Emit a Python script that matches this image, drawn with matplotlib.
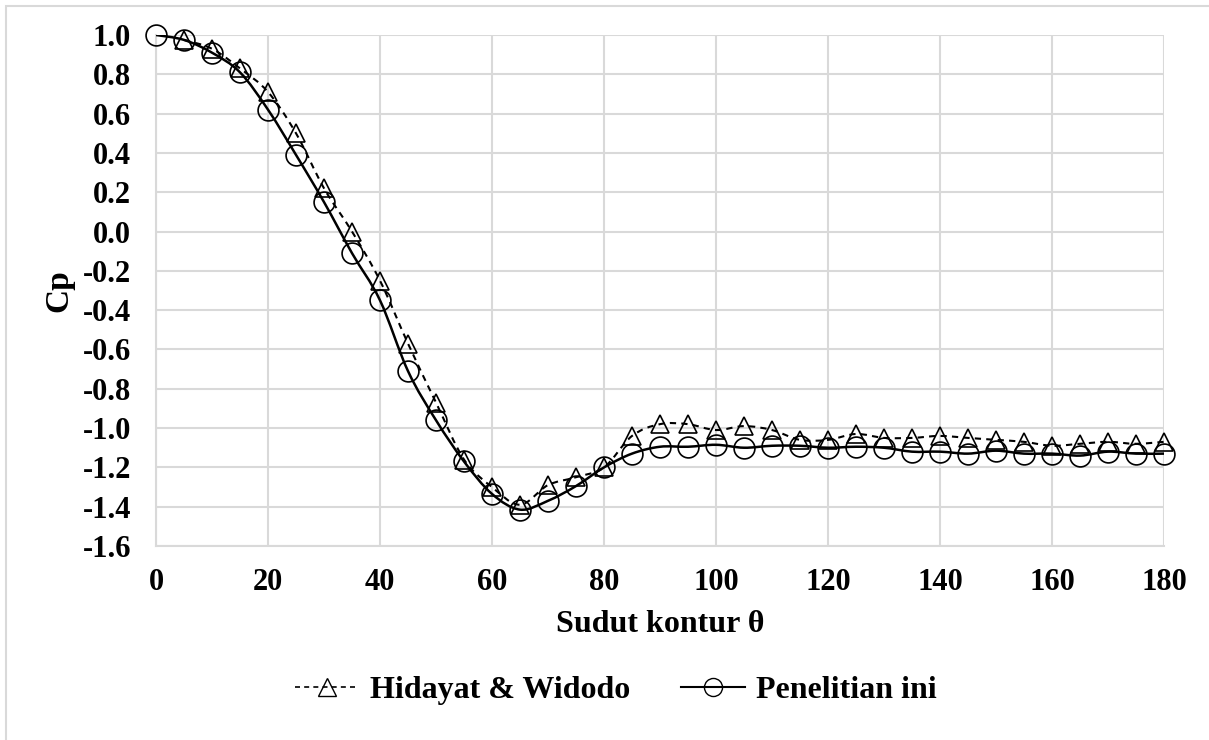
import matplotlib
matplotlib.use("Agg")
import matplotlib.pyplot as plt
import numpy as np
from matplotlib.path import Path
from matplotlib.patches import PathPatch, Rectangle
from matplotlib.lines import Line2D

# sudut kontur (derajat)
theta = [0, 5, 10, 15, 20, 25, 30, 35, 40, 45, 50, 55, 60, 65, 70, 75, 80, 85, 90,
         95, 100, 105, 110, 115, 120, 125, 130, 135, 140, 145, 150, 155, 160, 165,
         170, 175, 180]

# Hidayat & Widodo (mulai dari 5 derajat)
theta_hw = theta[1:]
cp_hw = [0.975, 0.93, 0.83, 0.71, 0.50, 0.22, 0.0, -0.25, -0.57, -0.87, -1.16,
         -1.30, -1.39, -1.29, -1.25, -1.20, -1.04, -0.98, -0.98, -1.01, -0.99,
         -1.01, -1.06, -1.06, -1.03, -1.05, -1.05, -1.04, -1.05, -1.06, -1.07,
         -1.09, -1.08, -1.07, -1.08, -1.07]

# Penelitian ini
cp_ini = [1.0, 0.975, 0.91, 0.81, 0.62, 0.39, 0.15, -0.11, -0.35, -0.71, -0.96,
          -1.17, -1.335, -1.415, -1.37, -1.295, -1.20, -1.13, -1.095, -1.095,
          -1.085, -1.10, -1.09, -1.09, -1.10, -1.095, -1.10, -1.12, -1.12, -1.13,
          -1.115, -1.13, -1.13, -1.14, -1.12, -1.13, -1.13]

yticks = [-1.6, -1.4, -1.2, -1.0, -0.8, -0.6, -0.4, -0.2, 0.0, 0.2, 0.4, 0.6, 0.8, 1.0]
ytick_labels = ["-1.6", "-1.4", "-1.2", "-1.0", "-0.8", "-0.6", "-0.4", "-0.2",
                "0.0", "0.2", "0.4", "0.6", "0.8", "1.0"]

plt.rcParams['font.family'] = ['Liberation Serif', 'DejaVu Serif']
plt.rcParams['font.weight'] = 'bold'


def smooth_path(x, y):
    # kurva halus gaya excel (bezier catmull-rom)
    x = np.asarray(x, float)
    y = np.asarray(y, float)
    verts = [(x[0], y[0])]
    codes = [Path.MOVETO]
    n = len(x)
    for i in range(n - 1):
        x0, y0 = (x[i - 1], y[i - 1]) if i > 0 else (x[i], y[i])
        x3, y3 = (x[i + 2], y[i + 2]) if i + 2 < n else (x[i + 1], y[i + 1])
        c1 = (x[i] + (x[i + 1] - x0) / 6, y[i] + (y[i + 1] - y0) / 6)
        c2 = (x[i + 1] - (x3 - x[i]) / 6, y[i + 1] - (y3 - y[i]) / 6)
        verts += [c1, c2, (x[i + 1], y[i + 1])]
        codes += [Path.CURVE4] * 3
    return Path(verts, codes)


fig = plt.figure(figsize=(12.09, 7.40), dpi=100)
ax = fig.add_axes([156 / 1209, 1 - 546 / 740, (1164 - 156) / 1209, (546 - 35) / 740])

ax.add_patch(PathPatch(smooth_path(theta_hw, cp_hw), fill=False, lw=1.5,
                       ls=(0, (3, 2.5)), color='black', zorder=3))
ax.add_patch(PathPatch(smooth_path(theta, cp_ini), fill=False, lw=1.8,
                       color='black', zorder=3))
ax.plot(theta_hw, cp_hw, ls='none', marker='^', ms=13, mfc='none', mec='black',
        mew=1.2, zorder=4, clip_on=False)
ax.plot(theta, cp_ini, ls='none', marker='o', ms=15, mfc='none', mec='black',
        mew=1.2, zorder=4, clip_on=False)

ax.set_xlim(0, 180)
ax.set_ylim(-1.6, 1.0)
ax.set_xticks(np.arange(0, 181, 20))
ax.set_yticks(yticks)
ax.set_yticklabels(ytick_labels)
ax.grid(True, color='#d9d9d9', lw=1.5)
ax.set_axisbelow(True)
for s in ['top', 'right']:
    ax.spines[s].set_visible(False)
for s in ['left', 'bottom']:
    ax.spines[s].set_color('#d9d9d9')
    ax.spines[s].set_linewidth(1.5)
ax.tick_params(length=0, labelsize=22)
ax.tick_params(axis='y', pad=18)
ax.tick_params(axis='x', pad=16)
ax.set_xlabel("Sudut kontur θ", fontsize=23, fontweight='bold', labelpad=9)
ax.set_ylabel("Cp", fontsize=24, fontweight='bold', labelpad=6)

handles = [
    Line2D([], [], color='black', lw=1.2, ls=(0, (3, 2.5)), marker='^', ms=13,
           mfc='none', mec='black', mew=1.0),
    Line2D([], [], color='black', lw=1.5, marker='o', ms=13, mfc='none',
           mec='black', mew=1.0),
]
fig.legend(handles, ["Hidayat & Widodo", "Penelitian ini"], loc='center',
           bbox_to_anchor=(616 / 1209, 1 - 690 / 740), ncol=2, frameon=False,
           fontsize=23, handlelength=2.0, columnspacing=1.6, handletextpad=0.35)

fig.add_artist(Rectangle((6 / 1209, -0.01), 1.2, 1 - 6 / 740 + 0.01,
                         transform=fig.transFigure, fill=False,
                         ec='#d9d9d9', lw=1.5))

plt.savefig("out.png", dpi=100)
